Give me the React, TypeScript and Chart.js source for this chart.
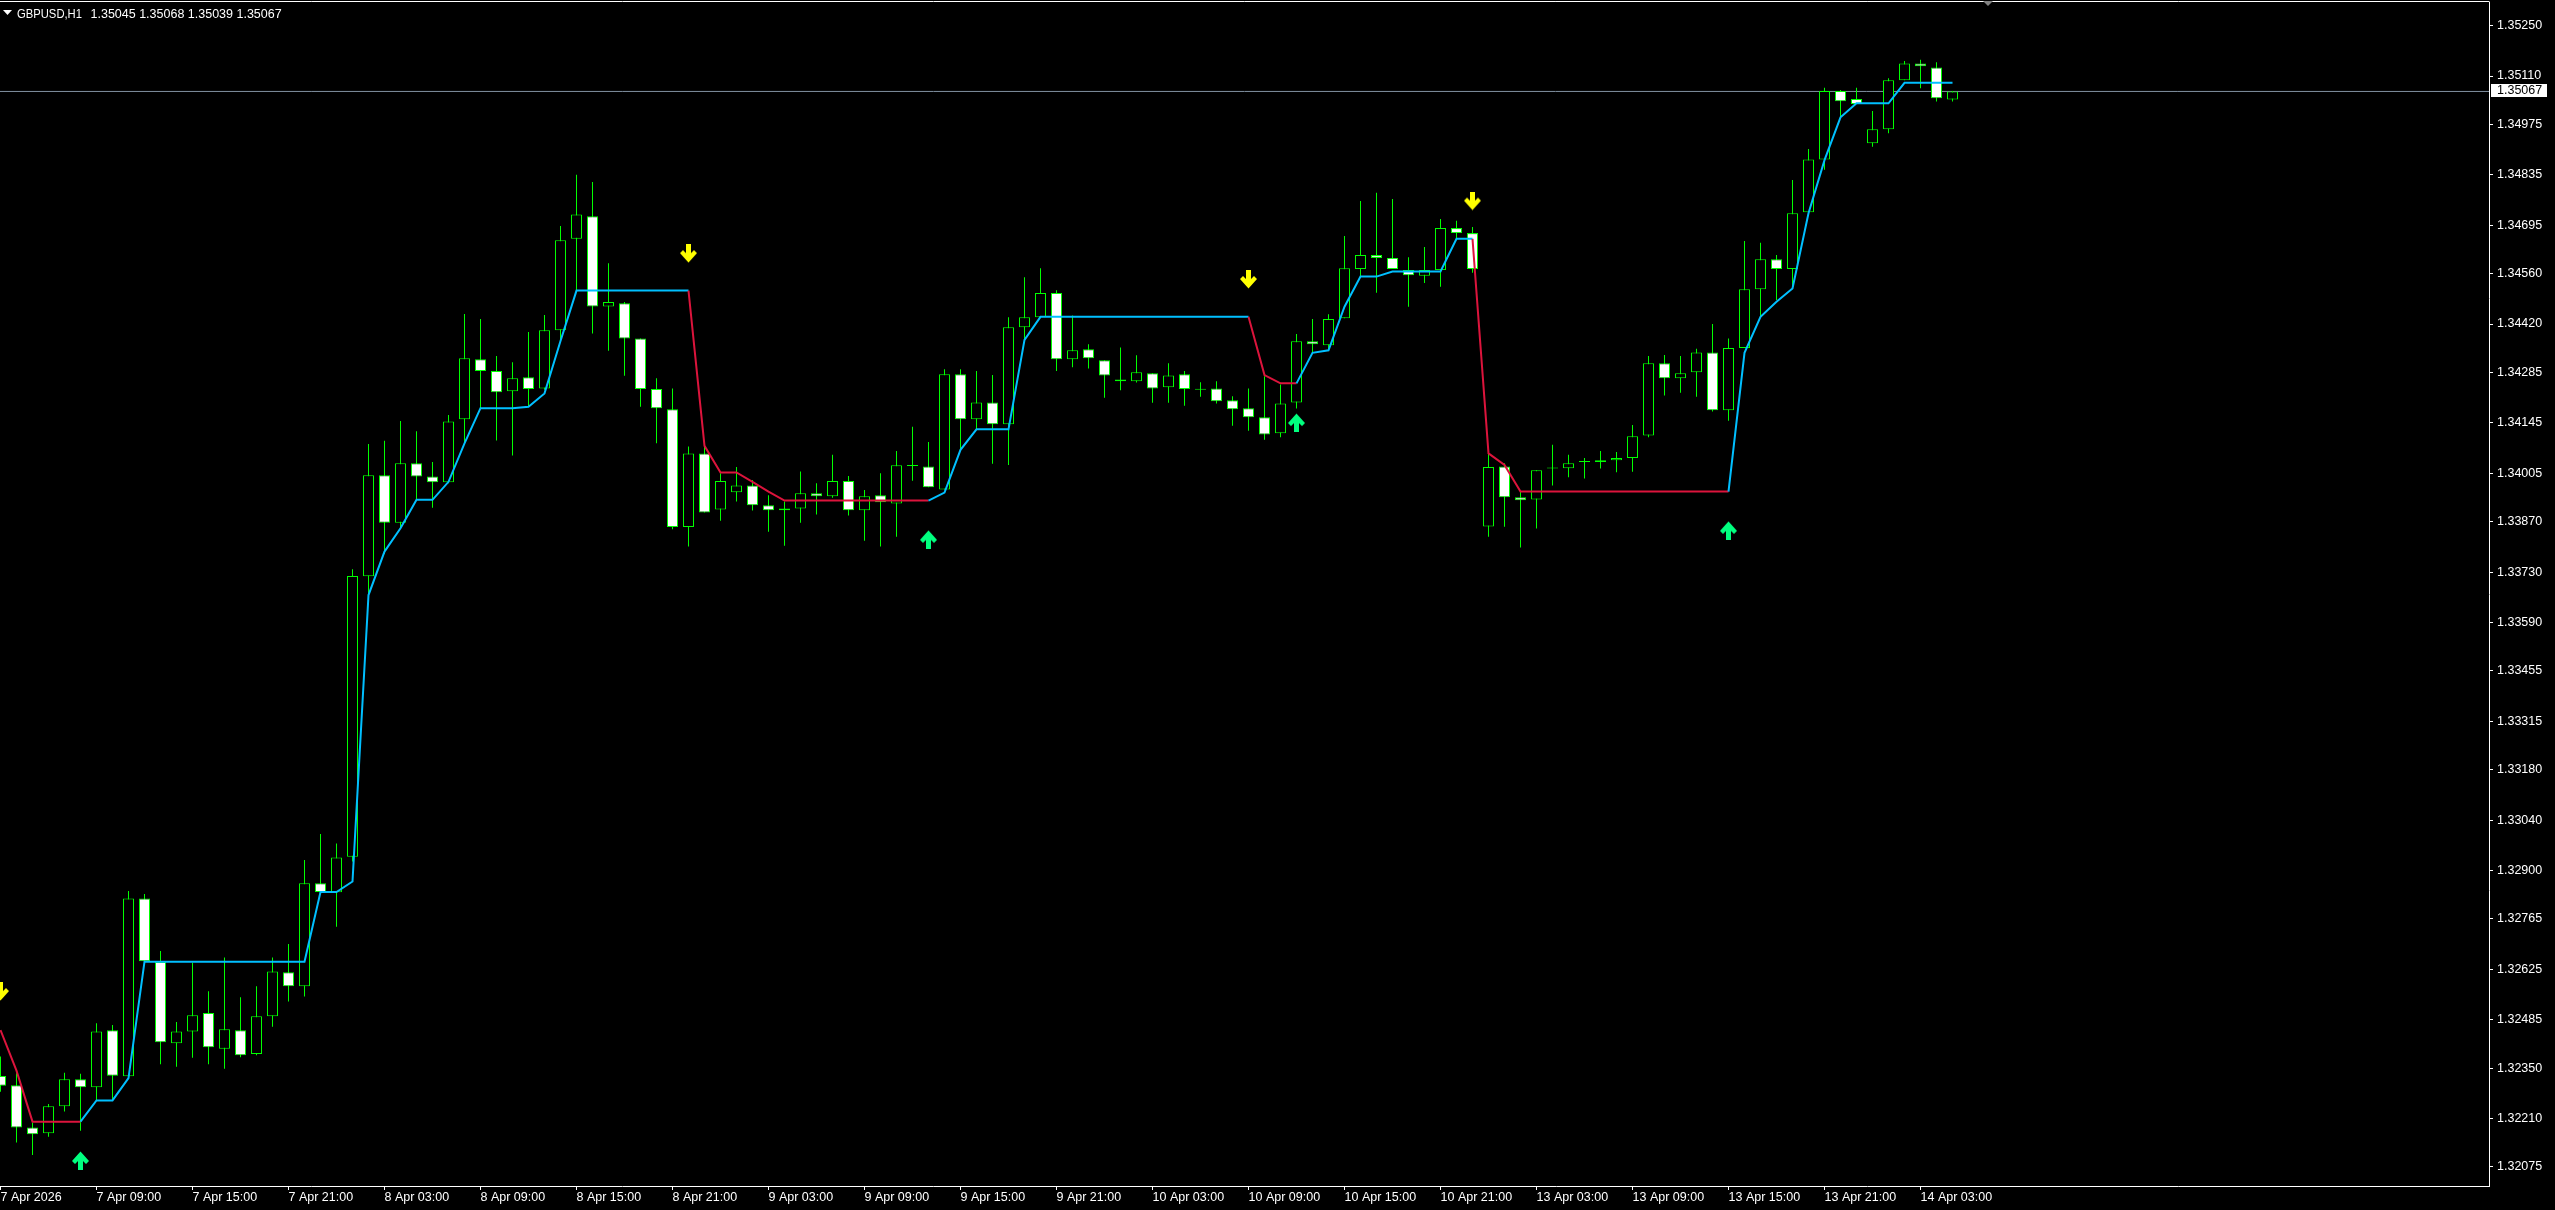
import React, { useEffect, useRef } from 'react';
import { Chart, registerables } from 'chart.js';

Chart.register(...registerables);

const symbolTitle = 'GBPUSD,H1';

const opens = [
  1.32328, 1.32302, 1.32185, 1.32169, 1.32244, 1.32319, 1.32297, 1.32455, 1.32327, 1.32822,
  1.32645, 1.32419, 1.32452, 1.32503, 1.32404, 1.32455, 1.32389, 1.32494, 1.32617, 1.32578,
  1.32864, 1.32839, 1.32938, 1.33718, 1.33999, 1.33867, 1.34033, 1.33996, 1.33980, 1.34155,
  1.34322, 1.34289, 1.34233, 1.34272, 1.34241, 1.34403, 1.34657, 1.34720, 1.34469, 1.34478,
  1.34380, 1.34239, 1.34183, 1.33855, 1.34060, 1.33904, 1.33952, 1.33971, 1.33916, 1.33907,
  1.33907, 1.33949, 1.33941, 1.33983, 1.33902, 1.33944, 1.33921, 1.34026, 1.34024, 1.33960,
  1.34280, 1.34155, 1.34202, 1.34141, 1.34411, 1.34439, 1.34506, 1.34322, 1.34350, 1.34319,
  1.34266, 1.34261, 1.34283, 1.34244, 1.34280, 1.34237, 1.34241, 1.34208, 1.34186, 1.34161,
  1.34116, 1.34202, 1.34372, 1.34361, 1.34436, 1.34573, 1.34612, 1.34604, 1.34570, 1.34554,
  1.34570, 1.34687, 1.34673, 1.33857, 1.34024, 1.33938, 1.33932, 1.34018, 1.34019, 1.34036,
  1.34036, 1.34041, 1.34047, 1.34110, 1.34311, 1.34269, 1.34286, 1.34341, 1.34180, 1.34353,
  1.34517, 1.34600, 1.34573, 1.34731, 1.34878, 1.35068, 1.35046, 1.34923, 1.34962, 1.35098,
  1.35145, 1.35134, 1.35045,
];

const highs = [
  1.32382, 1.32336, 1.32198, 1.32250, 1.32337, 1.32334, 1.32475, 1.32470, 1.32843, 1.32834,
  1.32676, 1.32478, 1.32643, 1.32564, 1.32658, 1.32547, 1.32578, 1.32658, 1.32695, 1.32929,
  1.33001, 1.32975, 1.33738, 1.34086, 1.34095, 1.34150, 1.34122, 1.34036, 1.34167, 1.34448,
  1.34434, 1.34331, 1.34314, 1.34398, 1.34445, 1.34693, 1.34835, 1.34815, 1.34589, 1.34481,
  1.34380, 1.34269, 1.34241, 1.34079, 1.34081, 1.34005, 1.34022, 1.33986, 1.33944, 1.33926,
  1.34010, 1.33977, 1.34056, 1.33997, 1.33958, 1.34005, 1.34067, 1.34134, 1.34092, 1.34294,
  1.34294, 1.34289, 1.34278, 1.34439, 1.34550, 1.34575, 1.34514, 1.34444, 1.34364, 1.34319,
  1.34355, 1.34333, 1.34283, 1.34311, 1.34289, 1.34258, 1.34261, 1.34219, 1.34241, 1.34275,
  1.34252, 1.34392, 1.34434, 1.34447, 1.34665, 1.34762, 1.34785, 1.34768, 1.34606, 1.34634,
  1.34712, 1.34707, 1.34690, 1.34060, 1.34033, 1.33954, 1.34013, 1.34084, 1.34056, 1.34047,
  1.34067, 1.34064, 1.34139, 1.34331, 1.34334, 1.34331, 1.34351, 1.34420, 1.34380, 1.34651,
  1.34646, 1.34612, 1.34821, 1.34907, 1.35077, 1.35071, 1.35077, 1.35013, 1.35104, 1.35152,
  1.35155, 1.35148, 1.35068,
];

const lows = [
  1.32284, 1.32143, 1.32108, 1.32159, 1.32229, 1.32176, 1.32260, 1.32261, 1.32325, 1.32645,
  1.32361, 1.32354, 1.32379, 1.32361, 1.32348, 1.32380, 1.32386, 1.32465, 1.32535, 1.32549,
  1.32837, 1.32743, 1.32925, 1.33663, 1.33780, 1.33852, 1.33931, 1.33909, 1.33977, 1.34088,
  1.34186, 1.34096, 1.34054, 1.34190, 1.34237, 1.34371, 1.34513, 1.34394, 1.34346, 1.34276,
  1.34190, 1.34088, 1.33849, 1.33801, 1.33896, 1.33873, 1.33926, 1.33901, 1.33842, 1.33803,
  1.33867, 1.33890, 1.33937, 1.33887, 1.33817, 1.33801, 1.33828, 1.33984, 1.33966, 1.33960,
  1.34070, 1.34127, 1.34031, 1.34028, 1.34376, 1.34439, 1.34289, 1.34300, 1.34296, 1.34215,
  1.34236, 1.34257, 1.34201, 1.34201, 1.34193, 1.34218, 1.34199, 1.34137, 1.34123, 1.34098,
  1.34105, 1.34185, 1.34340, 1.34348, 1.34436, 1.34551, 1.34507, 1.34573, 1.34468, 1.34534,
  1.34524, 1.34654, 1.34563, 1.33828, 1.33856, 1.33798, 1.33851, 1.33971, 1.33994, 1.33990,
  1.34018, 1.34008, 1.34009, 1.34105, 1.34221, 1.34229, 1.34218, 1.34177, 1.34151, 1.34353,
  1.34440, 1.34487, 1.34519, 1.34731, 1.34849, 1.34995, 1.35032, 1.34913, 1.34951, 1.35098,
  1.35076, 1.35039, 1.35039,
];

const closes = [
  1.32301, 1.32185, 1.32166, 1.32244, 1.32319, 1.32297, 1.32452, 1.32329, 1.32822, 1.32647,
  1.32422, 1.32452, 1.32497, 1.32408, 1.32458, 1.32386, 1.32494, 1.32619, 1.32578, 1.32864,
  1.32840, 1.32936, 1.33719, 1.33999, 1.33867, 1.34033, 1.33996, 1.33980, 1.34149, 1.34325,
  1.34289, 1.34230, 1.34269, 1.34239, 1.34403, 1.34653, 1.34725, 1.34469, 1.34481, 1.34380,
  1.34239, 1.34186, 1.33855, 1.34060, 1.33896, 1.33983, 1.33971, 1.33916, 1.33902, 1.33902,
  1.33949, 1.33941, 1.33983, 1.33902, 1.33941, 1.33924, 1.34027, 1.34025, 1.33966, 1.34280,
  1.34155, 1.34202, 1.34141, 1.34411, 1.34439, 1.34506, 1.34322, 1.34347, 1.34325, 1.34277,
  1.34261, 1.34286, 1.34241, 1.34277, 1.34239, 1.34237, 1.34205, 1.34183, 1.34161, 1.34113,
  1.34199, 1.34372, 1.34364, 1.34434, 1.34575, 1.34612, 1.34604, 1.34573, 1.34556, 1.34570,
  1.34687, 1.34673, 1.34573, 1.34022, 1.33938, 1.33930, 1.34013, 1.34018, 1.34033, 1.34036,
  1.34041, 1.34047, 1.34108, 1.34311, 1.34269, 1.34283, 1.34341, 1.34180, 1.34353, 1.34517,
  1.34600, 1.34573, 1.34728, 1.34878, 1.35068, 1.35040, 1.35032, 1.34962, 1.35098, 1.35145,
  1.35137, 1.35048, 1.35067,
];

const trailLine = [
  1.32456, 1.32343, 1.32201, 1.32201, 1.32201, 1.32201, 1.32260, 1.32260, 1.32322, 1.32646,
  1.32646, 1.32646, 1.32646, 1.32646, 1.32646, 1.32646, 1.32646, 1.32646, 1.32646, 1.32646,
  1.32840, 1.32840, 1.32869, 1.33666, 1.33787, 1.33852, 1.33931, 1.33931, 1.33981, 1.34088,
  1.34186, 1.34186, 1.34186, 1.34190, 1.34227, 1.34373, 1.34513, 1.34513, 1.34513, 1.34513,
  1.34513, 1.34513, 1.34513, 1.34513, 1.34081, 1.34007, 1.34007, 1.33981, 1.33954, 1.33929,
  1.33929, 1.33929, 1.33929, 1.33929, 1.33929, 1.33929, 1.33929, 1.33929, 1.33929, 1.33951,
  1.34070, 1.34127, 1.34127, 1.34127, 1.34376, 1.34440, 1.34440, 1.34440, 1.34440, 1.34440,
  1.34440, 1.34440, 1.34440, 1.34440, 1.34440, 1.34440, 1.34440, 1.34440, 1.34440, 1.34278,
  1.34255, 1.34255, 1.34340, 1.34347, 1.34468, 1.34552, 1.34552, 1.34566, 1.34566, 1.34566,
  1.34566, 1.34657, 1.34657, 1.34060, 1.34028, 1.33954, 1.33954, 1.33954, 1.33954, 1.33954,
  1.33954, 1.33954, 1.33954, 1.33954, 1.33954, 1.33954, 1.33954, 1.33954, 1.33954, 1.34340,
  1.34440, 1.34482, 1.34519, 1.34728, 1.34876, 1.34995, 1.35034, 1.35034, 1.35034, 1.35091,
  1.35091, 1.35091, 1.35091,
];

const upSignalBars = [5, 58, 81, 108];
const upSignalPrices = [1.32093, 1.33821, 1.34146, 1.33846];
const downSignalBars = [0, 43, 78, 92];
const downSignalPrices = [1.32563, 1.34616, 1.34544, 1.34762];

const timeTickBars = [0, 6, 12, 18, 24, 30, 36, 42, 48, 54, 60, 66, 72, 78, 84, 90, 96, 102, 108, 114, 120];
const timeTickLabels = [
  '7 Apr 2026', '7 Apr 09:00', '7 Apr 15:00', '7 Apr 21:00', '8 Apr 03:00', '8 Apr 09:00',
  '8 Apr 15:00', '8 Apr 21:00', '9 Apr 03:00', '9 Apr 09:00', '9 Apr 15:00', '9 Apr 21:00',
  '10 Apr 03:00', '10 Apr 09:00', '10 Apr 15:00', '10 Apr 21:00', '13 Apr 03:00', '13 Apr 09:00',
  '13 Apr 15:00', '13 Apr 21:00', '14 Apr 03:00',
];

const priceTicks = [
  1.35250, 1.35110, 1.34975, 1.34835, 1.34695, 1.34560, 1.34420, 1.34285, 1.34145, 1.34005,
  1.33870, 1.33730, 1.33590, 1.33455, 1.33315, 1.33180, 1.33040, 1.32900, 1.32765, 1.32625,
  1.32485, 1.32350, 1.32210, 1.32075,
];

const X_MIN = -0.03125;
const X_MAX = 155.53125;
const Y_MIN = 1.32022;
const Y_MAX = 1.353159;

const FONT_FAMILY = "'Liberation Sans', Arial, sans-serif";
const FONT_SIZE = 12.5;
const CANDLE_GREEN = '#00FF00';
const UP_BLUE = '#00BFFF';
const DOWN_RED = '#DC143C';

function trendAt(i: number): number {
  let best = -1;
  let dir = 1;
  upSignalBars.forEach((b) => { if (b <= i && b > best) { best = b; dir = 1; } });
  downSignalBars.forEach((b) => { if (b <= i && b > best) { best = b; dir = -1; } });
  return dir;
}

function makeArrow(color: string, up: boolean): HTMLCanvasElement {
  const c = document.createElement('canvas');
  c.width = 17;
  c.height = 19;
  const g = c.getContext('2d') as CanvasRenderingContext2D;
  g.save();
  if (up) {
    g.translate(0, 19);
    g.scale(1, -1);
  }
  g.fillStyle = color;
  g.fillRect(6, 0, 5, 13);
  g.beginPath();
  g.moveTo(0, 9);
  g.lineTo(3, 6);
  g.lineTo(8.5, 11.5);
  g.lineTo(14, 6);
  g.lineTo(17, 9);
  g.lineTo(8.5, 18.5);
  g.closePath();
  g.fill();
  g.restore();
  return c;
}

const mt4Plugin = {
  id: 'mt4Decor',
  beforeDraw(chart: any) {
    const { ctx, width, height } = chart;
    ctx.save();
    ctx.fillStyle = '#000000';
    ctx.fillRect(0, 0, width, height);
    ctx.restore();
  },
  afterDraw(chart: any) {
    const { ctx, chartArea } = chart;
    const yScale = chart.scales.y;
    const last = opens.length - 1;
    ctx.save();
    // top frame line
    ctx.strokeStyle = '#FFFFFF';
    ctx.lineWidth = 1;
    ctx.beginPath();
    ctx.moveTo(0, 1.5);
    ctx.lineTo(chartArea.right + 0.5, 1.5);
    ctx.stroke();
    // header
    ctx.fillStyle = '#FFFFFF';
    ctx.beginPath();
    ctx.moveTo(3, 10);
    ctx.lineTo(12, 10);
    ctx.lineTo(7.5, 15);
    ctx.closePath();
    ctx.fill();
    ctx.font = `${FONT_SIZE}px ${FONT_FAMILY}`;
    ctx.textBaseline = 'alphabetic';
    ctx.textAlign = 'left';
    ctx.fillText(symbolTitle, 17, 17.5, 65);
    const ohlc = [opens[last], highs[last], lows[last], closes[last]].map((v) => v.toFixed(5)).join(' ');
    ctx.fillText(ohlc, 90.5, 17.5);
    // chart shift marker
    ctx.fillStyle = '#808080';
    ctx.beginPath();
    ctx.moveTo(1983, 1);
    ctx.lineTo(1993, 1);
    ctx.lineTo(1988, 6);
    ctx.closePath();
    ctx.fill();
    // bid price label
    const bid = closes[last];
    const py = Math.round(yScale.getPixelForValue(bid));
    ctx.fillStyle = '#FFFFFF';
    ctx.fillRect(chartArea.right + 2, py - 7, 56, 13);
    ctx.fillStyle = '#000000';
    ctx.textBaseline = 'middle';
    ctx.fillText(bid.toFixed(5), chartArea.right + 8, py);
    ctx.restore();
  },
};

export default function App() {
  const canvasRef = useRef<HTMLCanvasElement | null>(null);

  useEffect(() => {
    const canvas = canvasRef.current;
    if (!canvas) return;
    Chart.defaults.font.family = FONT_FAMILY;
    Chart.defaults.font.size = FONT_SIZE;
    Chart.defaults.color = '#FFFFFF';

    const downArrow = makeArrow('#FFFF00', false);
    const upArrow = makeArrow('#00FF7F', true);
    const bid = closes[closes.length - 1];

    const chart = new Chart(canvas, {
      type: 'bar',
      data: {
        datasets: [
          {
            type: 'line',
            label: 'bid',
            data: [{ x: X_MIN, y: bid }, { x: X_MAX, y: bid }],
            borderColor: '#8090A0',
            borderWidth: 1,
            pointRadius: 0,
            order: 5,
          } as any,
          {
            type: 'bar',
            label: 'wicks',
            data: opens.map((_, i) => ({ x: i, y: [lows[i], highs[i]] })),
            backgroundColor: CANDLE_GREEN,
            borderWidth: 0,
            barThickness: 1,
            grouped: false,
            inflateAmount: 0,
            minBarLength: 1,
            order: 4,
          } as any,
          {
            type: 'bar',
            label: 'bodies',
            data: opens.map((o, i) => ({ x: i, y: [o, closes[i]] })),
            backgroundColor: opens.map((o, i) => (closes[i] > o ? '#000000' : '#FFFFFF')),
            borderColor: CANDLE_GREEN,
            borderWidth: 1,
            borderSkipped: false,
            barThickness: 11,
            grouped: false,
            inflateAmount: 0,
            minBarLength: 1,
            order: 3,
          } as any,
          {
            type: 'line',
            label: 'trail',
            data: trailLine.map((v, i) => ({ x: i, y: v })),
            borderWidth: 2,
            pointRadius: 0,
            tension: 0,
            borderColor: UP_BLUE,
            segment: {
              borderColor: (ctx: any) => (trendAt(ctx.p0DataIndex) > 0 ? UP_BLUE : DOWN_RED),
            },
            order: 2,
          } as any,
          {
            type: 'line',
            label: 'down',
            data: downSignalBars.map((b, i) => ({ x: b, y: downSignalPrices[i] })),
            showLine: false,
            pointStyle: downArrow,
            pointRadius: 9,
            order: 1,
          } as any,
          {
            type: 'line',
            label: 'up',
            data: upSignalBars.map((b, i) => ({ x: b, y: upSignalPrices[i] })),
            showLine: false,
            pointStyle: upArrow,
            pointRadius: 9,
            order: 1,
          } as any,
        ],
      },
      options: {
        responsive: false,
        maintainAspectRatio: false,
        devicePixelRatio: 1,
        animation: false,
        events: [],
        layout: { autoPadding: false, padding: { top: 2, left: 0, right: 0, bottom: 0 } },
        plugins: { legend: { display: false }, tooltip: { enabled: false } },
        scales: {
          x: {
            type: 'linear',
            position: 'bottom',
            min: X_MIN,
            max: X_MAX,
            offset: false,
            grid: { display: true, offset: false, drawOnChartArea: false, drawTicks: true, tickLength: 4, color: '#FFFFFF' },
            border: { display: true, color: '#FFFFFF', width: 1 },
            ticks: {
              autoSkip: false,
              maxRotation: 0,
              minRotation: 0,
              align: 'start',
              padding: 0,
              color: '#FFFFFF',
              font: { family: FONT_FAMILY, size: FONT_SIZE },
              callback: (value: any) => {
                const idx = timeTickBars.indexOf(Number(value));
                return idx >= 0 ? timeTickLabels[idx] : '';
              },
            },
            afterBuildTicks: (scale: any) => {
              scale.ticks = timeTickBars.map((v) => ({ value: v }));
            },
            afterFit: (scale: any) => {
              scale.height = 24;
              scale.paddingLeft = 0;
              scale.paddingRight = 0;
            },
          } as any,
          y: {
            type: 'linear',
            position: 'right',
            min: Y_MIN,
            max: Y_MAX,
            beginAtZero: false,
            grid: { display: true, drawOnChartArea: false, drawTicks: true, tickLength: 4, color: '#FFFFFF' },
            border: { display: true, color: '#FFFFFF', width: 1 },
            ticks: {
              autoSkip: false,
              padding: 4,
              color: '#FFFFFF',
              font: { family: FONT_FAMILY, size: FONT_SIZE },
              callback: (value: any) => Number(value).toFixed(5),
            },
            afterBuildTicks: (scale: any) => {
              scale.ticks = priceTicks.map((v) => ({ value: v }));
            },
            afterFit: (scale: any) => {
              scale.width = 66;
              scale.paddingTop = 0;
              scale.paddingBottom = 0;
            },
          } as any,
        },
      } as any,
      plugins: [mt4Plugin],
    });

    return () => {
      chart.destroy();
    };
  }, []);

  return (
    <div style={{ position: 'fixed', left: 0, top: 0, width: 2555, height: 1210, background: '#000000' }}>
      <canvas ref={canvasRef} width={2555} height={1210} style={{ display: 'block', width: 2555, height: 1210 }} />
    </div>
  );
}
